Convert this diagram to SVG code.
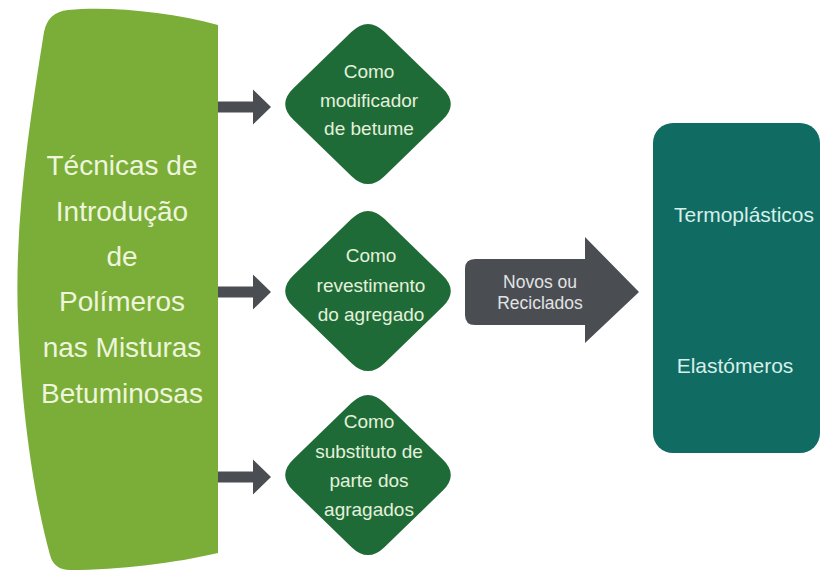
<svg xmlns="http://www.w3.org/2000/svg" width="822" height="572" viewBox="0 0 822 572">
<style>
.lt{font-family:"Liberation Sans",Arial,sans-serif;font-size:28px;fill:#eef5dc;text-anchor:middle}
.dt{font-family:"Liberation Sans",Arial,sans-serif;font-size:19px;fill:#e4f1dc;text-anchor:middle}
.at{font-family:"Liberation Sans",Arial,sans-serif;font-size:17.5px;fill:#e2e3e4;text-anchor:middle}
.rt{font-family:"Liberation Sans",Arial,sans-serif;font-size:21px;fill:#d6efe8;text-anchor:middle}
.dia{fill:#1f6b37}
.arr{fill:#4a4e53}
</style>
<defs>
<path id="diamond" d="M-74.6,-15.8 L-16.4,-72.2 Q0,-88 16.4,-72.2 L74.6,-15.8 Q91,0 74.6,15.8 L16.4,72.2 Q0,88 -16.4,72.2 L-74.6,15.8 Q-91,0 -74.6,-15.8 Z"/>
<path id="smallArrow" d="M0,-5.5 L35,-5.5 L35,-17.5 L53,0 L35,17.5 L35,5.5 L0,5.5 Z"/>
</defs>
<rect width="822" height="572" fill="#ffffff"/>
<g id="left-node">
<path d="M218,25 C170,12 110,6 68,10 Q48,12 44,32 C30,120 14,220 18,320 C22,420 35,500 50,555 Q54,570 70,570 C120,570 175,563 218,553 Z" fill="#7aae38"/>
<text class="lt" x="122" y="175">Técnicas de</text>
<text class="lt" x="122" y="221">Introdução</text>
<text class="lt" x="122" y="266">de</text>
<text class="lt" x="122" y="311">Polímeros</text>
<text class="lt" x="122" y="357">nas Misturas</text>
<text class="lt" x="122" y="403">Betuminosas</text>
</g>
<g id="connectors">
<use href="#smallArrow" class="arr" transform="translate(218,107)"/>
<use href="#smallArrow" class="arr" transform="translate(218,292)"/>
<use href="#smallArrow" class="arr" transform="translate(218,477)"/>
</g>
<g id="diamond-1">
<use href="#diamond" class="dia" transform="translate(368,104)"/>
<text class="dt" x="369" y="78">Como</text>
<text class="dt" x="369" y="107">modificador</text>
<text class="dt" x="369" y="135">de betume</text>
</g>
<g id="diamond-2">
<use href="#diamond" class="dia" transform="translate(368,291)"/>
<text class="dt" x="371" y="262">Como</text>
<text class="dt" x="371" y="292">revestimento</text>
<text class="dt" x="371" y="321">do agregado</text>
</g>
<g id="diamond-3">
<use href="#diamond" class="dia" transform="translate(368,475)"/>
<text class="dt" x="369" y="428">Como</text>
<text class="dt" x="369" y="458">substituto de</text>
<text class="dt" x="369" y="487">parte dos</text>
<text class="dt" x="369" y="516">agragados</text>
</g>
<g id="big-arrow">
<path d="M475,259 L585,259 L585,237 L639,292 L585,343 L585,325 L475,325 Q465,325 465,315 L465,269 Q465,259 475,259 Z" fill="#4a4e53"/>
<text class="at" x="540" y="288">Novos ou</text>
<text class="at" x="540" y="309">Reciclados</text>
</g>
<g id="right-node">
<rect x="653" y="123" width="167" height="330" rx="20" fill="#106b63"/>
<text class="rt" x="744" y="222">Termoplásticos</text>
<text class="rt" x="735" y="373">Elastómeros</text>
</g>
</svg>
